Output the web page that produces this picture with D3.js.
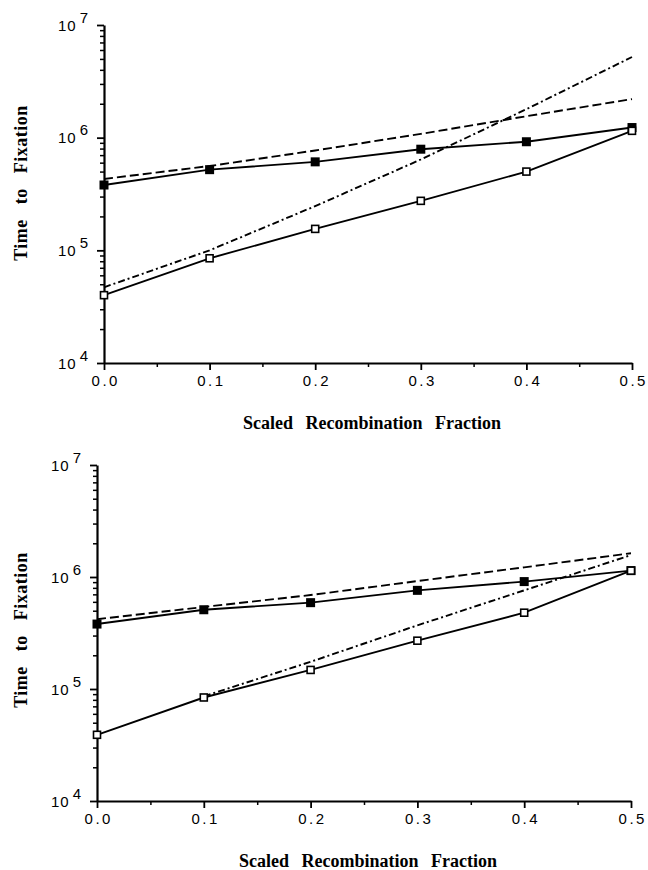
<!DOCTYPE html>
<html>
<head>
<meta charset="utf-8">
<script src="https://cdn.jsdelivr.net/npm/d3@7"></script>
<style>
    body { margin: 0; background: #fff; }
    .tick-label { font-family: "Liberation Sans", Arial, sans-serif; font-size: 15px; fill: #000; }
    .axis-title { font-family: "Liberation Serif", "Times New Roman", serif; font-weight: bold; font-size: 18px; fill: #000; }
</style>
</head>
<body>
<div id="chartArea"></div>
<script>
// x values shared by both panels
const fractions = [0, 0.1, 0.2, 0.3, 0.4, 0.5];
const xTickLabels = ['0.0', '0.1', '0.2', '0.3', '0.4', '0.5'];
const yExponents = [4, 5, 6, 7];

// upper panel
const topFilled = [3.8e5, 5.2e5, 6.1e5, 7.9e5, 9.2e5, 1.23e6];
const topOpen = [4.0e4, 8.5e4, 1.55e5, 2.75e5, 5.0e5, 1.15e6];
const topDashed = [4.3e5, 5.6e5, 7.7e5, 1.08e6, 1.55e6, 2.2e6];
const topDashDot = [4.7e4, 1.0e5, 2.47e5, 6.4e5, 1.79e6, 5.2e6];

// lower panel
const bottomFilled = [3.8e5, 5.1e5, 5.9e5, 7.6e5, 9.1e5, 1.14e6];
const bottomOpen = [3.9e4, 8.4e4, 1.48e5, 2.7e5, 4.8e5, 1.14e6];
const bottomDashed = [4.2e5, 5.4e5, 6.9e5, 9.2e5, 1.22e6, 1.63e6];
const bottomDashDot = [null, 8.6e4, 1.75e5, 3.7e5, 7.6e5, 1.57e6];

const xTitle = 'Scaled Recombination Fraction';
const yTitle = 'Time to Fixation';

let svg = d3.select('#chartArea')
    .append('svg')
        .attr('width', 648)
        .attr('height', 870);

function drawPanel(p) {
    let xScale = d3.scaleLinear()
        .domain([0, 0.5])
        .range([p.left, p.right]);

    let yScale = d3.scaleLog()
        .domain([1e4, 1e7])
        .range([p.bottom, p.top]);

    let g = svg.append('g');

    // minor y ticks (2..9 in each decade)
    let minorY = [];
    yExponents.slice(0, 3).forEach(e => {
        for (let k = 2; k <= 9; k++) minorY.push(k * Math.pow(10, e));
    });

    g.append('g')
        .attr('transform', 'translate(' + p.left + ',0)')
        .call(d3.axisLeft(yScale).tickValues(minorY).tickSize(4).tickFormat(''))
        .call(a => a.select('.domain').remove())
        .selectAll('line').attr('stroke-width', 1.5);

    let yAxis = g.append('g')
        .attr('transform', 'translate(' + p.left + ',0)')
        .call(d3.axisLeft(yScale)
            .tickValues(yExponents.map(e => Math.pow(10, e)))
            .tickSize(7)
            .tickSizeOuter(0)
            .tickFormat(''));
    yAxis.select('.domain').attr('stroke-width', 2.2);
    yAxis.selectAll('line').attr('stroke-width', 1.8);

    yAxis.selectAll('.tick').each(function (d, i) {
        let t = d3.select(this).append('text')
            .attr('class', 'tick-label')
            .attr('x', -16)
            .attr('y', 5)
            .attr('text-anchor', 'end')
            .attr('fill', '#000');
        t.append('tspan').text('10').attr('letter-spacing', '1px');
        t.append('tspan').text(yExponents[i]).attr('dy', -8).attr('dx', 3);
    });

    // x axis: minor then major ticks
    g.append('g')
        .attr('transform', 'translate(0,' + p.bottom + ')')
        .call(d3.axisBottom(xScale).tickValues([0.05, 0.15, 0.25, 0.35, 0.45]).tickSize(4).tickFormat(''))
        .call(a => a.select('.domain').remove())
        .selectAll('line').attr('stroke-width', 1.5);

    let xAxis = g.append('g')
        .attr('transform', 'translate(0,' + p.bottom + ')')
        .call(d3.axisBottom(xScale)
            .tickValues(fractions)
            .tickSize(7)
            .tickSizeOuter(0)
            .tickFormat((d, i) => xTickLabels[i]));
    xAxis.select('.domain').attr('stroke-width', 2.2);
    xAxis.selectAll('line').attr('stroke-width', 1.8);
    xAxis.selectAll('text')
        .attr('class', 'tick-label')
        .attr('fill', '#000')
        .attr('letter-spacing', '2.5px')
        .attr('dx', 1.25)
        .attr('y', 12);

    // axis titles
    g.append('text')
        .attr('class', 'axis-title')
        .attr('x', (p.left + p.right) / 2 + 4)
        .attr('y', p.bottom + 66)
        .attr('text-anchor', 'middle')
        .attr('word-spacing', '8px')
        .text(xTitle);

    g.append('text')
        .attr('class', 'axis-title')
        .attr('transform', 'translate(27,' + p.yTitleMid + ') rotate(-90)')
        .attr('text-anchor', 'middle')
        .attr('letter-spacing', '0.5px')
        .attr('word-spacing', '10px')
        .text(yTitle);

    let line = d3.line()
        .defined(d => d[1] !== null)
        .x(d => xScale(d[0]))
        .y(d => yScale(d[1]));

    let pairs = arr => fractions.map((f, i) => [f, arr[i]]);

    g.append('path')
        .attr('d', line(pairs(p.dashed)))
        .attr('fill', 'none').attr('stroke', '#000')
        .attr('stroke-width', 1.9)
        .attr('stroke-dasharray', '9,4');

    g.append('path')
        .attr('d', line(pairs(p.dashDot)))
        .attr('fill', 'none').attr('stroke', '#000')
        .attr('stroke-width', 1.9)
        .attr('stroke-dasharray', '7,3,2,3');

    g.append('path')
        .attr('d', line(pairs(p.filled)))
        .attr('fill', 'none').attr('stroke', '#000')
        .attr('stroke-width', 1.9);

    g.append('path')
        .attr('d', line(pairs(p.open)))
        .attr('fill', 'none').attr('stroke', '#000')
        .attr('stroke-width', 1.9);

    g.selectAll('.filled')
        .data(pairs(p.filled))
        .enter().append('rect')
            .attr('class', 'filled')
            .attr('x', d => xScale(d[0]) - 4.5)
            .attr('y', d => yScale(d[1]) - 4.5)
            .attr('width', 9)
            .attr('height', 9)
            .attr('fill', '#000');

    g.selectAll('.open')
        .data(pairs(p.open))
        .enter().append('rect')
            .attr('class', 'open')
            .attr('x', d => xScale(d[0]) - 3.5)
            .attr('y', d => yScale(d[1]) - 3.5)
            .attr('width', 7)
            .attr('height', 7)
            .attr('fill', '#fff')
            .attr('stroke', '#000')
            .attr('stroke-width', 1.6);
}

drawPanel({
    left: 104, right: 632, top: 25, bottom: 363, yTitleMid: 183,
    filled: topFilled, open: topOpen, dashed: topDashed, dashDot: topDashDot
});

drawPanel({
    left: 97, right: 631, top: 465, bottom: 801, yTitleMid: 630,
    filled: bottomFilled, open: bottomOpen, dashed: bottomDashed, dashDot: bottomDashDot
});
</script>
</body>
</html>
